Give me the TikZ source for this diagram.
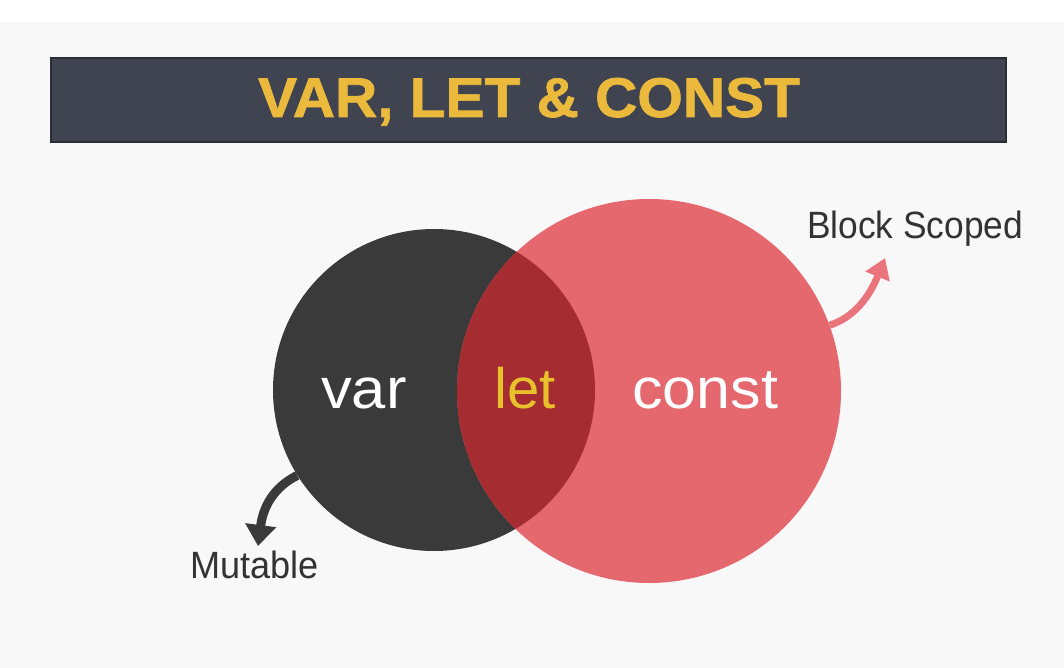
\documentclass[tikz,border=0pt]{standalone}
\usepackage{fontspec}
\setmainfont{Liberation Sans}
\newfontfamily\titlefont[FakeBold=1.2]{Liberation Sans Bold}
\usetikzlibrary{arrows.meta}
\definecolor{bggray}{HTML}{F8F8F8}
\definecolor{barfill}{HTML}{404350}
\definecolor{barline}{HTML}{2A2C34}
\definecolor{titleyellow}{HTML}{EBBA3C}
\definecolor{darkcirc}{HTML}{3A3A3A}
\definecolor{redcirc}{HTML}{E4686E}
\definecolor{overlapred}{HTML}{A52C31}
\definecolor{letyellow}{HTML}{E8C22C}
\definecolor{labelgray}{HTML}{333333}
\definecolor{redarrow}{HTML}{EA747B}
\tikzset{
  bigword/.style={inner sep=0pt, anchor=base west, font=\fontsize{57}{60}\selectfont},
  sidelabel/.style={inner sep=0pt, anchor=base west, text=labelgray, font=\fontsize{38}{40}\selectfont},
  fatarrow/.style={line width=#1, line cap=butt},
}
\begin{document}
\begin{tikzpicture}[x=1pt,y=-1pt]
\useasboundingbox (0,0) rectangle (1064,668);
\fill[white] (0,0) rectangle (1064,668);
\fill[bggray] (0,22) rectangle (1064,668);
% title bar
\draw[barline, line width=1.5pt, fill=barfill] (51,58) rectangle (1006,142);
\node[inner sep=0pt, anchor=base, text=titleyellow, font=\titlefont\fontsize{56}{58}\selectfont] (title) at (529,117) {\scalebox{1.045}[1]{VAR, LET \& CONST}};
% circles
\node[circle, fill=darkcirc, minimum size=322pt, inner sep=0pt] (varc) at (434,390) {};
\node[circle, fill=redcirc, minimum size=384pt, inner sep=0pt] (constc) at (649,391) {};
\begin{scope}
  \clip (434,390) circle (161pt);
  \fill[overlapred] (649,391) circle (192pt);
\end{scope}
% words
\node[bigword, text=white] (var) at (321,408) {\scalebox{1.08}[1]{var}};
\node[bigword, text=letyellow] (let) at (494,408) {\scalebox{1.02}[1]{let}};
\node[bigword, text=white] (const) at (632,408) {\scalebox{1.07}[1]{const}};
% labels
\node[sidelabel] (mut) at (190,578) {\scalebox{0.95}[1]{Mutable}};
\node[sidelabel] (block) at (807,238) {\scalebox{0.93}[1]{Block Scoped}};
% arrows
\coordinate (mutip) at (258,546);
\coordinate (blocktip) at (885,258);
\draw[darkcirc, fatarrow=9pt, -{Triangle[width=30pt,length=21pt]}]
  (varc.212) .. controls (280,484) and (264,500) .. (mutip);
\draw[redarrow, fatarrow=7pt, -{Triangle[width=25pt,length=20pt]}]
  (constc.20) .. controls (852,318) and (868,300) .. (blocktip);
\end{tikzpicture}
\end{document}
